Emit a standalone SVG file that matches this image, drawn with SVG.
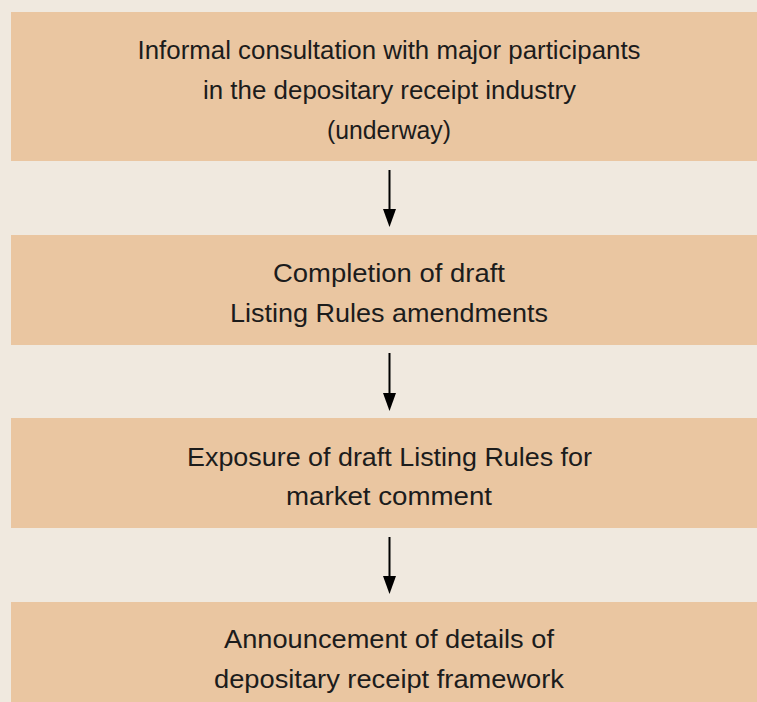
<svg xmlns="http://www.w3.org/2000/svg" width="757" height="702" viewBox="0 0 757 702">
<style>
.box{fill:#EAC6A1;}
.t{font-family:"Liberation Sans",Arial,sans-serif;font-size:26px;fill:#1c1c1c;text-anchor:middle;}
.c{stroke:#000;stroke-width:2;fill:none;}
.h{fill:#000;}
</style>
<rect width="757" height="702" fill="#F0E9DF"/>
<g id="n1"><rect class="box" x="11" y="12" width="746" height="149"/>
<text class="t" x="389" y="59" textLength="503" lengthAdjust="spacingAndGlyphs">Informal consultation with major participants</text>
<text class="t" x="389.5" y="99" textLength="373" lengthAdjust="spacingAndGlyphs">in the depositary receipt industry</text>
<text class="t" x="389" y="139" textLength="124" lengthAdjust="spacingAndGlyphs">(underway)</text></g>
<g id="n2"><rect class="box" x="11" y="235" width="746" height="110"/>
<text class="t" x="389" y="282" textLength="232" lengthAdjust="spacingAndGlyphs">Completion of draft</text>
<text class="t" x="389" y="322" textLength="318" lengthAdjust="spacingAndGlyphs">Listing Rules amendments</text></g>
<g id="n3"><rect class="box" x="11" y="418" width="746" height="110"/>
<text class="t" x="389.5" y="466" textLength="405" lengthAdjust="spacingAndGlyphs">Exposure of draft Listing Rules for</text>
<text class="t" x="389" y="505" textLength="206" lengthAdjust="spacingAndGlyphs">market comment</text></g>
<g id="n4"><rect class="box" x="11" y="602" width="746" height="100"/>
<text class="t" x="389" y="648" textLength="330" lengthAdjust="spacingAndGlyphs">Announcement of details of</text>
<text class="t" x="389" y="688" textLength="350" lengthAdjust="spacingAndGlyphs">depositary receipt framework</text></g>
<g id="connectors">
<line class="c" x1="389.5" y1="170" x2="389.5" y2="212"/>
<path class="h" d="M383,209 L396,209 L389.5,227 Z"/>
<line class="c" x1="389.5" y1="353" x2="389.5" y2="396"/>
<path class="h" d="M383,393 L396,393 L389.5,411 Z"/>
<line class="c" x1="389.5" y1="537" x2="389.5" y2="579"/>
<path class="h" d="M383,576 L396,576 L389.5,594 Z"/>
</g>
</svg>
